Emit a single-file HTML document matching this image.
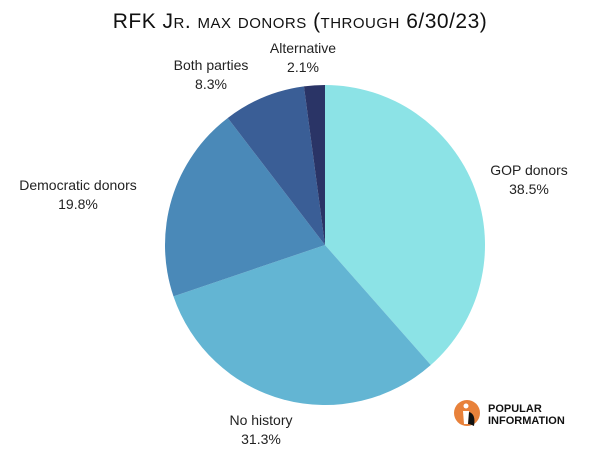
<!DOCTYPE html>
<html><head><meta charset="utf-8"><style>
body{margin:0;background:#fff;width:600px;height:458px;overflow:hidden;font-family:"Liberation Sans",sans-serif}
</style></head><body>
<svg width="600" height="458">
<text x="300" y="28" text-anchor="middle" font-size="21" fill="#111" style="font-variant:small-caps;letter-spacing:0.5px">RFK Jr. max donors (through 6/30/23)</text>
<g id="slices"></g>
<g id="labels" font-size="14" fill="#222" text-anchor="middle"></g>
<g>
<circle cx="467" cy="413" r="13" fill="#e8813a"/>
<circle cx="466" cy="406" r="2.5" fill="#fff"/>
<path d="M463 411 L469 411 L470 424 L464 424 Z" fill="#fff"/>
<path d="M469 412 Q476 414 474 426 Q470 424 468 424 Z" fill="#111"/>
<text x="488" y="412" font-size="11" font-weight="bold" fill="#111">POPULAR</text>
<text x="488" y="424" font-size="11" font-weight="bold" fill="#111">INFORMATION</text>
</g>
</svg>
<script>
const categories=["GOP donors","No history","Democratic donors","Both parties","Alternative"];
const values=[38.5,31.3,19.8,8.3,2.1];
const colors=["#8ce3e6","#63b5d3","#4a89b8","#3a5e96","#2a3466"];
const labelPos=[[529,175],[261,425],[78,190],[211,70],[303,53]];
const cx=325,cy=245,r=160,ns="http://www.w3.org/2000/svg";
const total=values.reduce((a,b)=>a+b,0);
let a=0;
const sg=document.getElementById('slices'),lg=document.getElementById('labels');
values.forEach((v,i)=>{
 const a2=a+v/total*2*Math.PI;
 const x1=cx+r*Math.sin(a),y1=cy-r*Math.cos(a),x2=cx+r*Math.sin(a2),y2=cy-r*Math.cos(a2);
 const p=document.createElementNS(ns,'path');
 p.setAttribute('d',`M${cx} ${cy}L${x1} ${y1}A${r} ${r} 0 ${a2-a>Math.PI?1:0} 1 ${x2} ${y2}Z`);
 p.setAttribute('fill',colors[i]);
 
 
 sg.appendChild(p);
 const [lx,ly]=labelPos[i];
 const t=document.createElementNS(ns,'text');
 t.setAttribute('x',lx);t.setAttribute('y',ly);
 
 
 t.innerHTML=`<tspan x="${lx}">${categories[i]}</tspan><tspan x="${lx}" dy="19">${v.toFixed(1)}%</tspan>`;
 lg.appendChild(t);
 a=a2;
});
</script>
</body></html>
